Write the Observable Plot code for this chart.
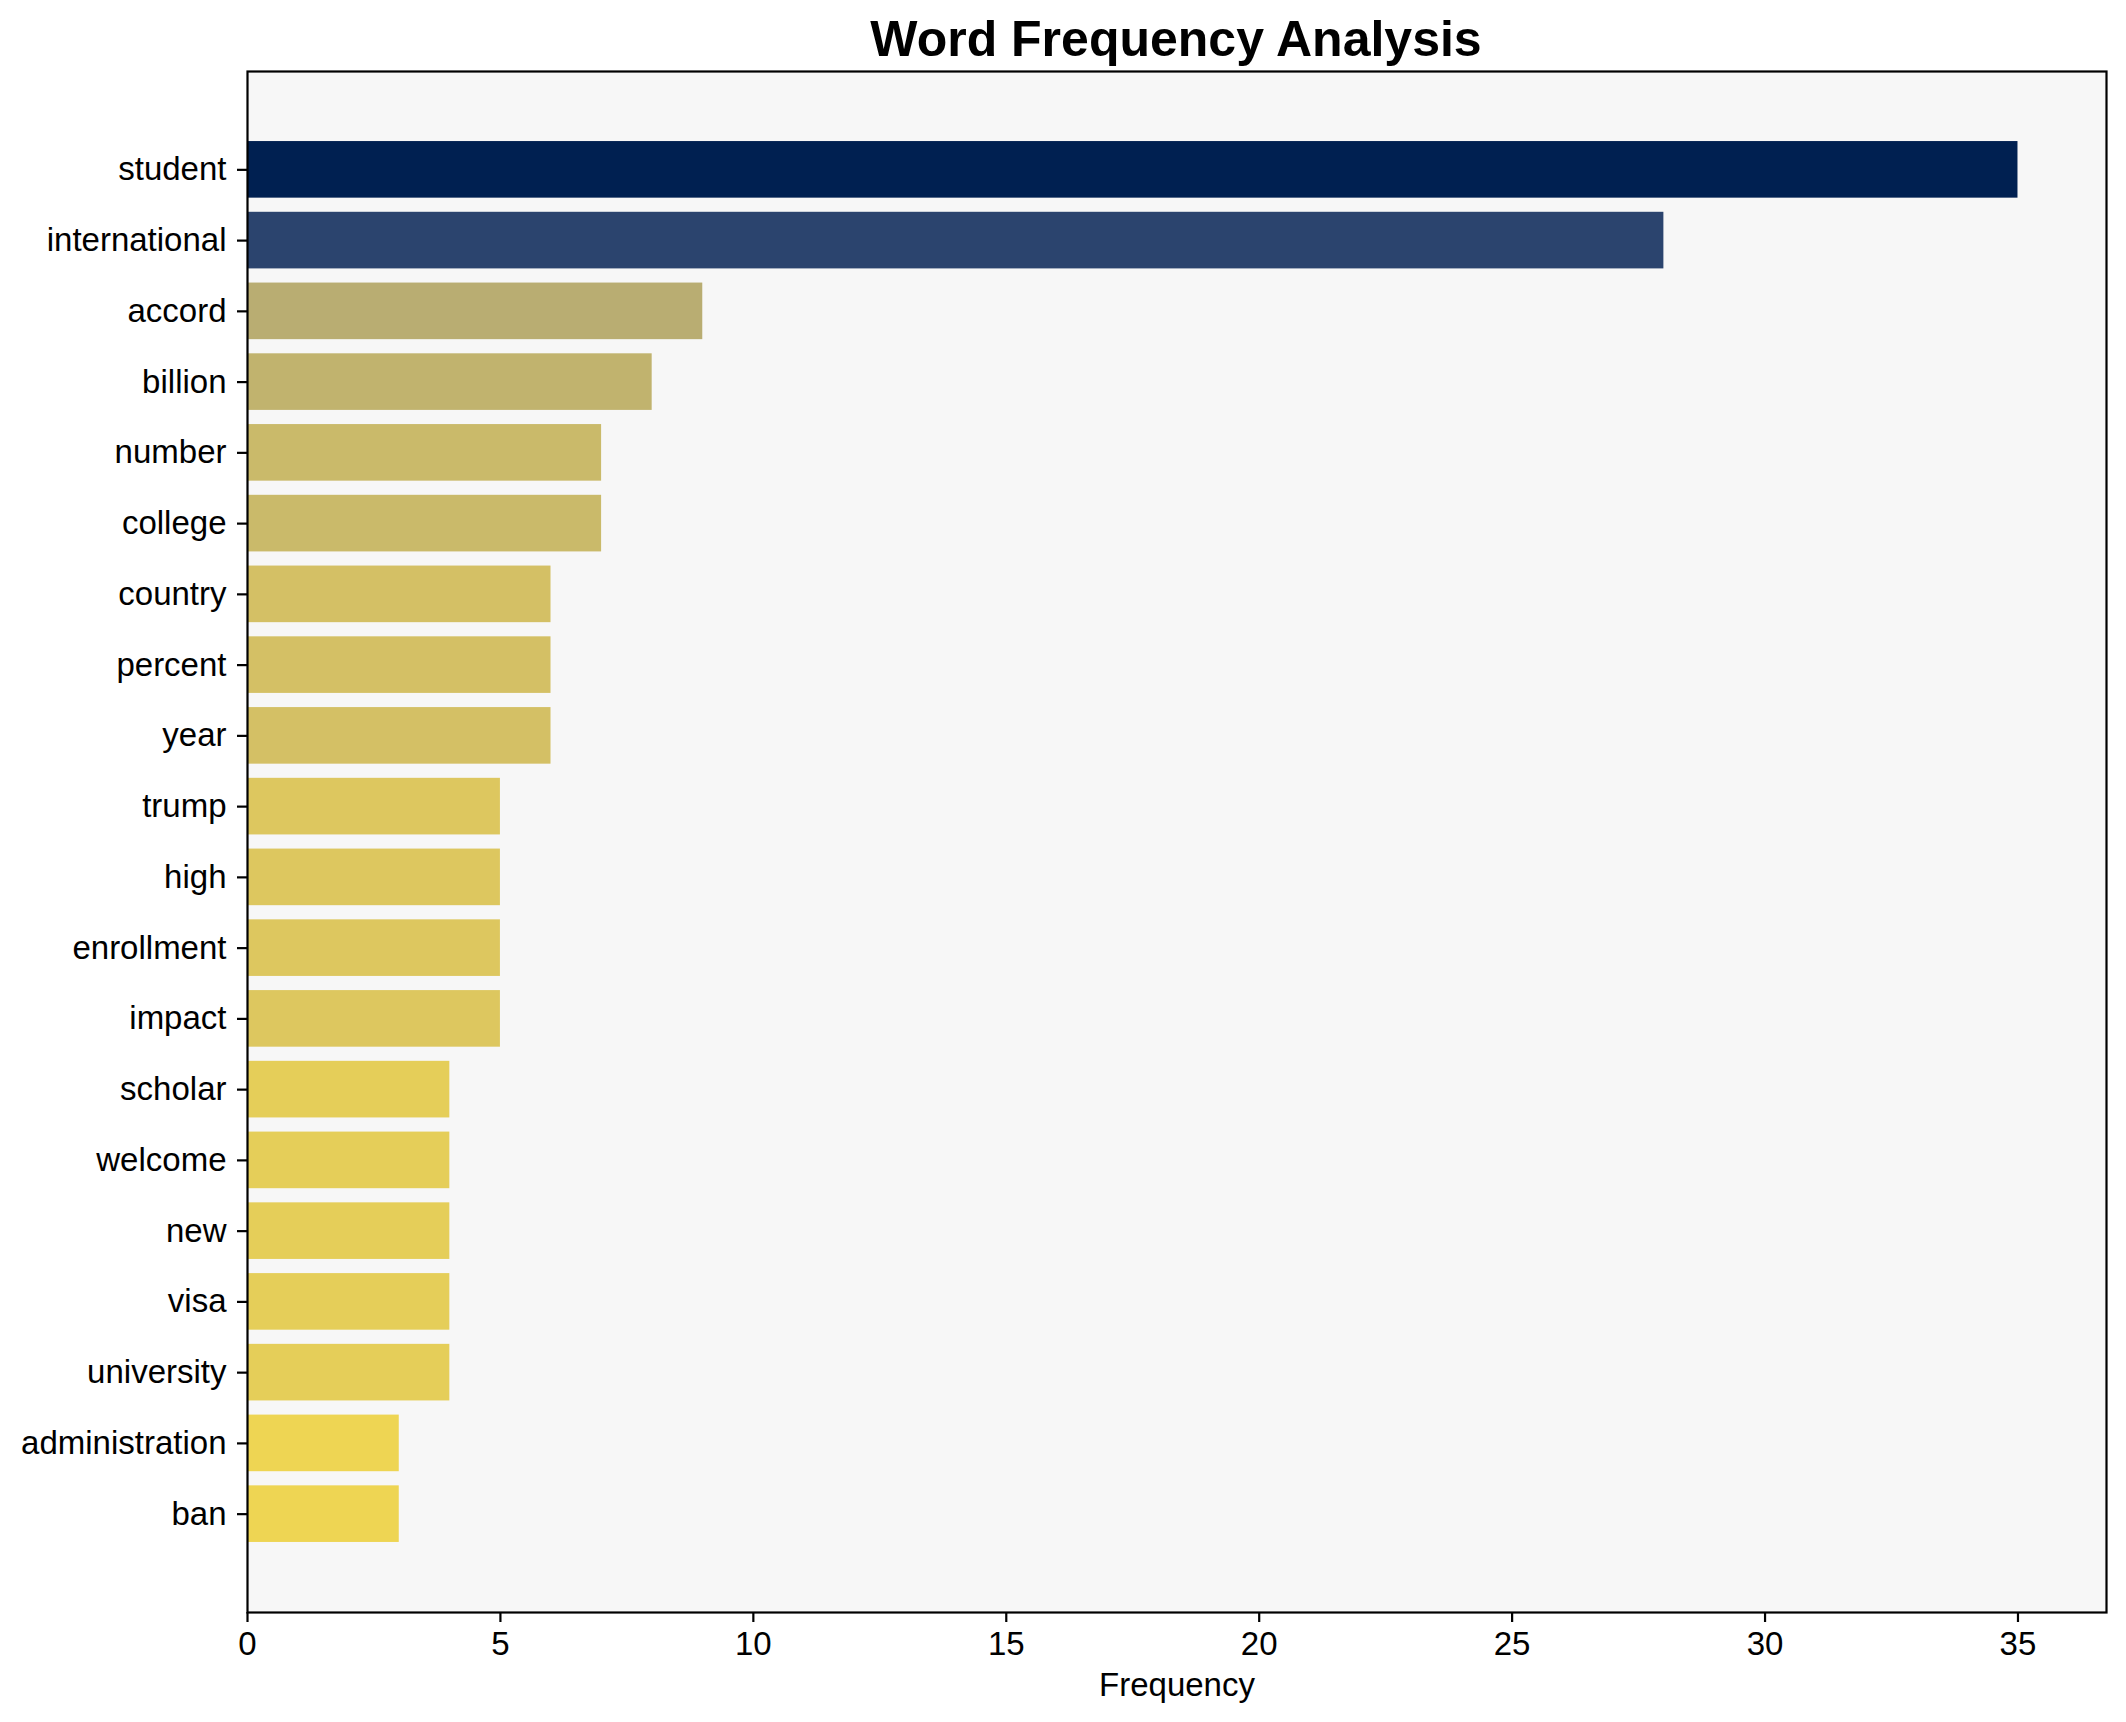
<!DOCTYPE html>
<html>
<head>
<meta charset="utf-8">
<script src="https://cdn.jsdelivr.net/npm/d3@7"></script>
<script src="https://cdn.jsdelivr.net/npm/@observablehq/plot@0.6"></script>
<style>
  html, body { margin: 0; padding: 0; background: white; }
  #wrap { position: relative; width: 2126px; height: 1722px; }
  #title {
    position: absolute; left: 1176px; top: 14px; transform: translateX(-50%);
    font-family: "Liberation Sans", Arial, sans-serif; font-weight: bold;
    font-size: 50px; line-height: 50px; white-space: nowrap; color: black;
  }
  #chart { position: absolute; left: 0; top: 0; }
</style>
</head>
<body>
<div id="wrap">
  <div id="chart"></div>
  <div id="title">Word Frequency Analysis</div>
</div>
<script>
const words = ["student", "international", "accord", "billion", "number", "college", "country", "percent", "year", "trump", "high", "enrollment", "impact", "scholar", "welcome", "new", "visa", "university", "administration", "ban"];
const counts = [35, 28, 9, 8, 7, 7, 6, 6, 6, 5, 5, 5, 5, 4, 4, 4, 4, 4, 3, 3];
const xTicks = [0, 5, 10, 15, 20, 25, 30, 35];
const xLabel = "Frequency";

const data = words.map((w, i) => ({ word: w, count: counts[i] }));
const maxCount = d3.max(counts);

const chart = Plot.plot({
  width: 2126,
  height: 1722,
  marginLeft: 247,
  marginRight: 20,
  marginTop: 71,
  marginBottom: 110,
  style: { fontFamily: "'Liberation Sans', Arial, sans-serif", fontSize: "33px", color: "black", background: "white", overflow: "visible" },
  x: { domain: [0, maxCount * 1.05] },
  y: { domain: words, paddingInner: 0.2, paddingOuter: 0.99, round: false },
  color: { type: "linear", scheme: "cividis", domain: [0, maxCount], reverse: true },
  marks: [
    Plot.frame({ fill: "#f7f7f7" }),
    Plot.barX(data, { x: "count", y: "word", fill: "count" }),
    Plot.frame({ stroke: "black", strokeWidth: 2.2 }),
    Plot.axisY({ tickSize: 10, tickPadding: 11, strokeWidth: 2.2, label: null, fontSize: 33 }),
    Plot.axisX({ ticks: xTicks, tickSize: 10, tickPadding: 9, strokeWidth: 2.2, fontSize: 33,
      label: xLabel, labelAnchor: "center", labelArrow: "none", labelOffset: 83 })
  ]
});
document.getElementById("chart").appendChild(chart);
</script>
</body>
</html>
